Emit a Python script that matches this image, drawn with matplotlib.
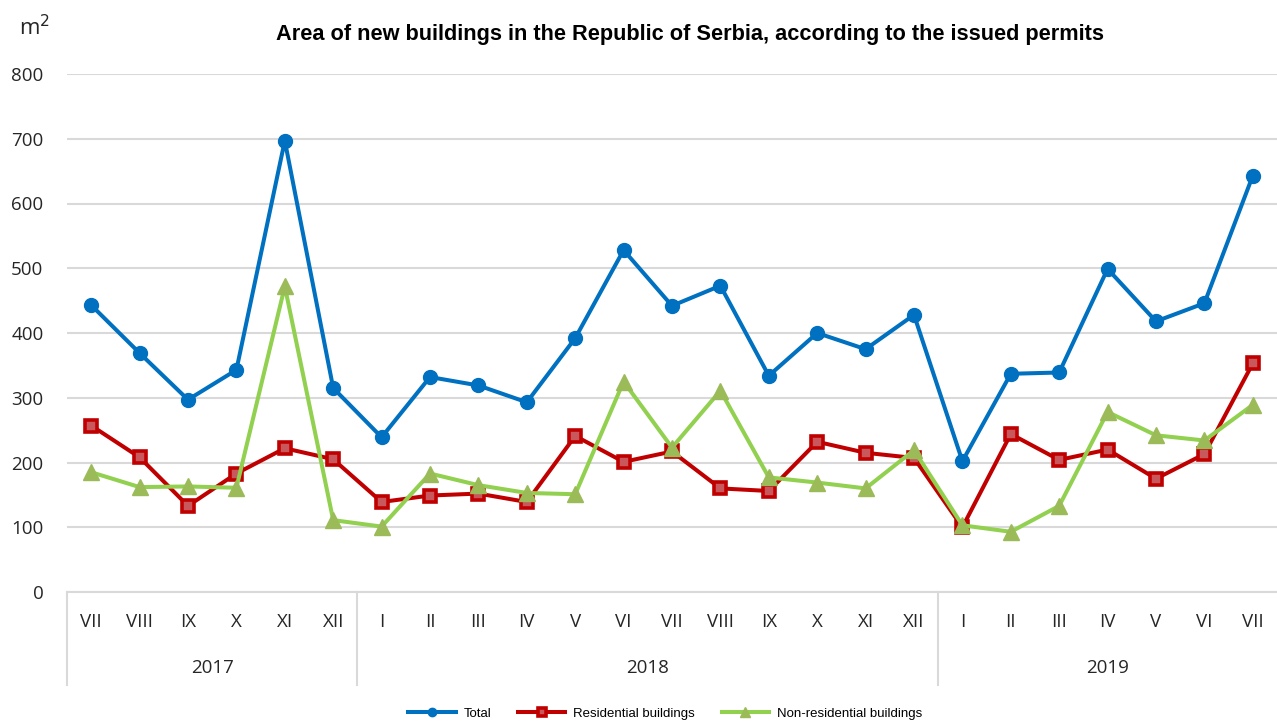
import matplotlib.pyplot as plt
import matplotlib.transforms as mtransforms
import numpy as np

months = ['VII', 'VIII', 'IX', 'X', 'XI', 'XII',
          'I', 'II', 'III', 'IV', 'V', 'VI', 'VII', 'VIII', 'IX', 'X', 'XI', 'XII',
          'I', 'II', 'III', 'IV', 'V', 'VI', 'VII']
years = ['2017', '2018', '2019']
year_counts = [6, 12, 7]

total = [443, 369, 297, 343, 697, 315,
         239, 332, 319, 293, 392, 528, 442, 473, 334, 400, 375, 428,
         202, 337, 339, 499, 418, 446, 643]
residential = [257, 208, 133, 183, 222, 205,
               139, 149, 152, 139, 241, 201, 217, 160, 156, 232, 215, 207,
               100, 244, 204, 220, 175, 213, 353]
non_residential = [185, 162, 163, 161, 472, 111,
                   101, 183, 165, 153, 151, 325, 223, 311, 177, 169, 160, 219,
                   103, 93, 133, 278, 242, 234, 289]

arial = ['Liberation Sans', 'DejaVu Sans']
plain = ['Open Sans', 'DejaVu Sans']

fig = plt.figure(figsize=(12.77, 7.24), dpi=100)
ax = fig.add_axes([67/1277, 1-592/724, 1210/1277, 518/724])

x = np.arange(len(months))
ax.plot(x, total, color='#0070C0', lw=2.9, marker='o', ms=10,
        label='Total')
ax.plot(x, residential, color='#C00000', lw=2.9, marker='s', ms=9,
        mfc='#C8585B', mec='#C00000', mew=2.6, label='Residential buildings')
ax.plot(x, non_residential, color='#92D050', lw=2.9, marker='^', ms=11,
        mfc='#9BBB59', mec='#9BBB59', label='Non-residential buildings')

ax.set_xlim(-0.5, len(months) - 0.5)
ax.set_ylim(0, 800)
ax.set_yticks(np.arange(0, 801, 100))
ax.grid(axis='y', color='#D9D9D9', lw=1.5)
ax.set_axisbelow(True)
for s in ['left', 'right', 'top']:
    ax.spines[s].set_visible(False)
ax.spines['bottom'].set_color('#D9D9D9')
ax.spines['bottom'].set_linewidth(1.5)
ax.tick_params(axis='y', length=0, pad=17, labelsize=13.5, labelcolor='#262626')
for t in ax.get_yticklabels():
    t.set_family(plain)
ax.set_xticks([])

# two-level category axis
trans = mtransforms.blended_transform_factory(ax.transData, ax.transAxes)
for i, m in enumerate(months):
    ax.text(i, -0.058, m, transform=trans, ha='center', va='center',
            fontsize=13.5, color='#262626', family=plain)
edges = np.concatenate([[0], np.cumsum(year_counts)]) - 0.5
for e in edges[:-1]:
    ax.plot([e, e], [0, -0.18], transform=trans, color='#D9D9D9', lw=1.5,
            clip_on=False)
for y, a, b in zip(years, edges[:-1], edges[1:]):
    ax.text((a + b) / 2, -0.147, y, transform=trans, ha='center', va='center',
            fontsize=13.5, color='#262626', family=plain)

fig.text(0.54, 0.952, 'Area of new buildings in the Republic of Serbia, according to the issued permits',
         ha='center', va='center', fontsize=15.7, fontweight='bold', family=arial)
fig.text(0.027, 0.962, r'm$^2$', ha='center', va='center', fontsize=16,
         family=plain, color='#262626')

fig.legend(loc='center', bbox_to_anchor=(0.521, 0.014), ncol=3, frameon=False,
           prop={'family': arial, 'size': 9.5}, handlelength=3.6,
           columnspacing=2.0, handletextpad=0.6, markerscale=0.6)

fig.savefig('out.png', dpi=100)
